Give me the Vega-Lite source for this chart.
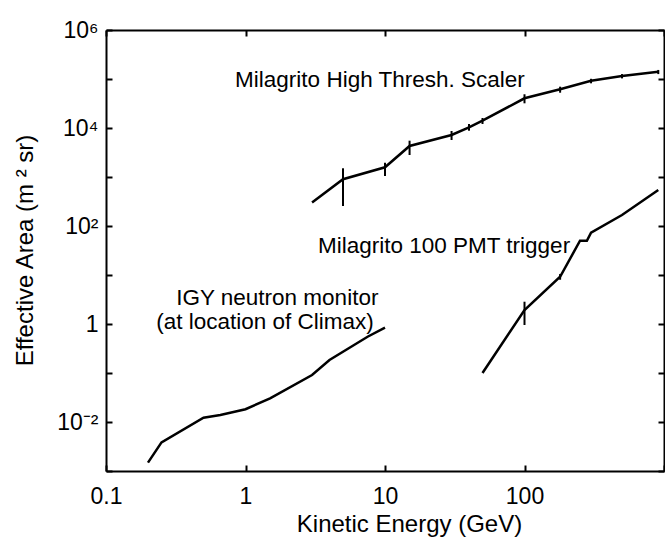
{
  "$schema": "https://vega.github.io/schema/vega-lite/v6.json",
  "width": 558,
  "height": 441,
  "autosize": {"type": "none"},
  "padding": {"left": 106, "top": 30, "right": 1, "bottom": 75},
  "background": "white",
  "config": {
    "view": {"stroke": null},
    "font": "Liberation Sans",
    "axis": {
      "domainColor": "black",
      "domainWidth": 2,
      "tickColor": "black",
      "tickWidth": 2,
      "tickSize": -6,
      "labelColor": "black",
      "labelFont": "Liberation Sans",
      "labelFontSize": 23,
      "titleFont": "Liberation Sans",
      "titleFontSize": 24,
      "titleFontWeight": "normal",
      "titleColor": "black",
      "grid": false,
      "labelFlush": false,
      "labelOverlap": false
    }
  },
  "datasets": {
    "curves": [
      {"series": "IGY", "energy": 0.2, "area": 0.00148},
      {"series": "IGY", "energy": 0.25, "area": 0.00385},
      {"series": "IGY", "energy": 0.5, "area": 0.0122},
      {"series": "IGY", "energy": 0.66, "area": 0.0139},
      {"series": "IGY", "energy": 1, "area": 0.0182},
      {"series": "IGY", "energy": 1.5, "area": 0.0305},
      {"series": "IGY", "energy": 3, "area": 0.091},
      {"series": "IGY", "energy": 4, "area": 0.184},
      {"series": "IGY", "energy": 6, "area": 0.372},
      {"series": "IGY", "energy": 7.5, "area": 0.55},
      {"series": "IGY", "energy": 10, "area": 0.84},
      {"series": "Scaler", "energy": 3, "area": 300},
      {"series": "Scaler", "energy": 5, "area": 900},
      {"series": "Scaler", "energy": 10, "area": 1580},
      {"series": "Scaler", "energy": 15, "area": 4300},
      {"series": "Scaler", "energy": 30, "area": 7200},
      {"series": "Scaler", "energy": 40, "area": 10300},
      {"series": "Scaler", "energy": 50, "area": 14100},
      {"series": "Scaler", "energy": 100, "area": 40400},
      {"series": "Scaler", "energy": 180, "area": 61600},
      {"series": "Scaler", "energy": 300, "area": 92300},
      {"series": "Scaler", "energy": 500, "area": 115000},
      {"series": "Scaler", "energy": 910, "area": 141000},
      {"series": "PMT", "energy": 50, "area": 0.1},
      {"series": "PMT", "energy": 100, "area": 1.93},
      {"series": "PMT", "energy": 180, "area": 9.2},
      {"series": "PMT", "energy": 250, "area": 50},
      {"series": "PMT", "energy": 280, "area": 50},
      {"series": "PMT", "energy": 300, "area": 73},
      {"series": "PMT", "energy": 500, "area": 168},
      {"series": "PMT", "energy": 910, "area": 543}
    ],
    "errors": [
      {"series": "Scaler", "energy": 5, "low": 256, "high": 1507},
      {"series": "Scaler", "energy": 10, "low": 1047, "high": 1958},
      {"series": "Scaler", "energy": 15, "low": 2810, "high": 5510},
      {"series": "Scaler", "energy": 30, "low": 5690, "high": 8690},
      {"series": "Scaler", "energy": 40, "low": 8810, "high": 12080},
      {"series": "Scaler", "energy": 50, "low": 12080, "high": 16000},
      {"series": "Scaler", "energy": 100, "low": 31900, "high": 48800},
      {"series": "Scaler", "energy": 180, "low": 52500, "high": 69700},
      {"series": "Scaler", "energy": 300, "low": 81600, "high": 101000},
      {"series": "Scaler", "energy": 500, "low": 103000, "high": 126000},
      {"series": "Scaler", "energy": 910, "low": 126000, "high": 153000},
      {"series": "PMT", "energy": 100, "low": 0.955, "high": 2.85},
      {"series": "PMT", "energy": 180, "low": 8, "high": 10.5}
    ],
    "labels": [
      {"text": "Milagrito High Thresh. Scaler", "energy": 9.2, "area": 95500},
      {"text": "Milagrito 100 PMT trigger", "energy": 26.5, "area": 39},
      {"text": "IGY neutron monitor", "energy": 1.69, "area": 3.4},
      {"text": "(at location of Climax)", "energy": 1.38, "area": 1.08}
    ]
  },
  "layer": [
    {
      "data": {"name": "curves"},
      "mark": {"type": "line", "color": "black", "strokeWidth": 2.5},
      "encoding": {
        "x": {
          "field": "energy", "type": "quantitative",
          "scale": {"type": "log", "domain": [0.1, 1000], "nice": false},
          "axis": {
            "orient": "bottom",
            "values": [0.1, 1, 10, 100, 1000],
            "labelExpr": "round(log(datum.value)/LN10) == -1 ? '0.1' : round(log(datum.value)/LN10) == 0 ? '1' : round(log(datum.value)/LN10) == 1 ? '10' : round(log(datum.value)/LN10) == 2 ? '100' : ''",
            "labelPadding": 20,
            "title": "Kinetic Energy (GeV)",
            "titleX": 303,
            "titleY": 53,
            "titleBaseline": "middle"
          }
        },
        "y": {
          "field": "area", "type": "quantitative",
          "scale": {"type": "log", "domain": [0.001, 1000000], "nice": false},
          "axis": {
            "orient": "left",
            "values": [0.001, 0.01, 0.1, 1, 10, 100, 1000, 10000, 100000, 1000000],
            "labelExpr": "round(log(datum.value)/LN10) == 6 ? '10⁶' : round(log(datum.value)/LN10) == 4 ? '10⁴' : round(log(datum.value)/LN10) == 2 ? '10²' : round(log(datum.value)/LN10) == 0 ? '1' : round(log(datum.value)/LN10) == -2 ? '10⁻²' : ''",
            "labelPadding": 14,
            "title": "Effective Area (m ² sr)",
            "titleX": -81,
            "titleY": 220,
            "titleBaseline": "middle"
          }
        },
        "detail": {"field": "series"}
      }
    },
    {
      "data": {"name": "errors"},
      "mark": {"type": "rule", "color": "black", "strokeWidth": 2},
      "encoding": {
        "x": {"field": "energy", "type": "quantitative", "axis": null},
        "y": {"field": "low", "type": "quantitative", "axis": null},
        "y2": {"field": "high"}
      }
    },
    {
      "data": {"name": "labels"},
      "mark": {"type": "text", "color": "black", "fontSize": 22.5, "font": "Liberation Sans", "align": "center", "baseline": "middle"},
      "encoding": {
        "x": {"field": "energy", "type": "quantitative", "axis": null},
        "y": {"field": "area", "type": "quantitative", "axis": null},
        "text": {"field": "text"}
      }
    },
    {
      "data": {"name": "curves"},
      "mark": {"type": "point", "opacity": 0},
      "encoding": {
        "x": {
          "field": "energy", "type": "quantitative",
          "axis": {"orient": "top", "values": [0.1, 1, 10, 100, 1000], "labels": false, "title": null}
        },
        "y": {
          "field": "area", "type": "quantitative",
          "axis": {"orient": "right", "values": [0.001, 0.01, 0.1, 1, 10, 100, 1000, 10000, 100000, 1000000], "labels": false, "title": null}
        }
      }
    }
  ],
  "resolve": {"axis": {"x": "independent", "y": "independent"}}
}
